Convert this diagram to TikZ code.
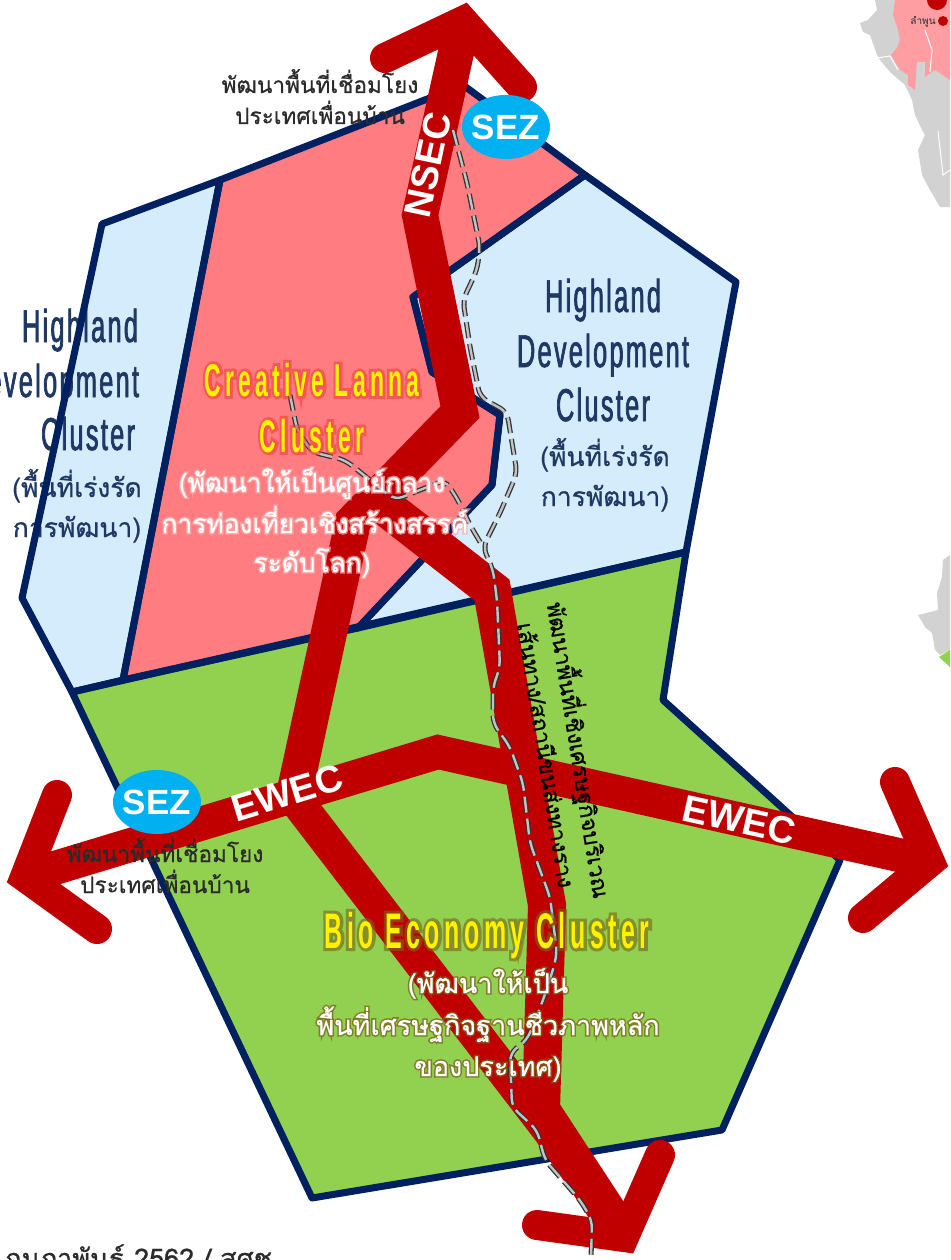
\documentclass[tikz,border=0pt]{standalone}
\usepackage{fontspec}
\usetikzlibrary{shapes.geometric}
\setmainfont{Liberation Sans}
\newfontfamily\thaifont[Script=Thai]{Loma}
\newfontfamily\thaihalo[Script=Thai,FakeBold=12]{Loma}
\newfontfamily\thaisemi[Script=Thai,FakeBold=0.7]{Loma}
\newfontfamily\condfont[FakeStretch=0.55,LetterSpace=5,FakeBold=1.5]{Liberation Sans}
\newfontfamily\condbold[FakeStretch=0.5,LetterSpace=9]{Liberation Sans Bold}
\newfontfamily\condhalo[FakeStretch=0.5,LetterSpace=9,FakeBold=12]{Liberation Sans Bold}
\definecolor{navy}{HTML}{002060}
\definecolor{roadred}{HTML}{C00000}
\definecolor{pinkfill}{HTML}{FF7C80}
\definecolor{bluefill}{HTML}{D5ECFD}
\definecolor{greenfill}{HTML}{92D050}
\definecolor{sezblue}{HTML}{00B0F0}
\definecolor{hlblue}{HTML}{1F3864}
\definecolor{labelgrey}{HTML}{2B2B2B}
\definecolor{mapgrey}{HTML}{D2D2D2}
\definecolor{mappink}{HTML}{FF9EA2}
\definecolor{oliveglow}{HTML}{7A6418}
\definecolor{pinkglow}{HTML}{FFA8A8}
\definecolor{redglow}{HTML}{F04040}
\tikzset{
 zoneline/.style={draw=navy,line width=7pt,line join=round},
 road/.style={draw=roadred,line join=miter,miter limit=10},
 head/.style={draw=roadred,line width=30pt,line join=miter,line cap=round,miter limit=10},
 railout/.style={draw=black!80,line width=5pt,dash pattern=on 16pt off 6pt,rounded corners=8pt},
 railin/.style={draw=white,opacity=.7,line width=2.4pt,dash pattern=on 16pt off 6pt,rounded corners=8pt},
 sez/.style={ellipse,fill=sezblue,minimum width=88pt,minimum height=64pt,inner xsep=-3pt,inner ysep=6pt,text=white,font=\fontsize{35}{35}\selectfont\bfseries},
 corridor/.style={text=white,inner sep=0pt,font=\fontsize{38}{38}\selectfont\bfseries},
 txt/.style={inner sep=0pt,anchor=base},
 blacklabel/.style={txt,text=labelgrey,font=\fontsize{22.6}{22.6}\selectfont\thaisemi},
 hlhead/.style={txt,text=hlblue,font=\fontsize{46}{46}\selectfont\condfont},
 hlthai/.style={txt,text=hlblue,font=\fontsize{26.5}{26.5}\selectfont\thaisemi},
 clusterhead/.style={txt,text=yellow,font=\condbold},
 clusterheadglow/.style={txt,opacity=.6,font=\condhalo},
 lannathai/.style={txt,text=white,font=\fontsize{26.3}{26.3}\selectfont\thaisemi},
 lannathaiglow/.style={txt,text=pinkglow,opacity=.75,font=\fontsize{26.3}{26.3}\selectfont\thaihalo},
 biothai/.style={txt,text=white,font=\fontsize{27}{27}\selectfont\thaisemi},
 biothaiglow/.style={txt,text=oliveglow,opacity=.75,font=\fontsize{27}{27}\selectfont\thaihalo},
 vertlabel/.style={inner sep=0pt,text=black,rotate=-81,font=\fontsize{22.6}{22.6}\selectfont\thaisemi},
}
\begin{document}
\begin{tikzpicture}[x=1pt,y=-1pt]
\useasboundingbox (0,0) rectangle (950,1260);
\clip (0,0) rectangle (950,1260);
% background map fragments
\fill[mapgrey] (875,0) -- (877,10) -- (868,20) -- (860,23) -- (863,32) -- (870,35) -- (877,55) -- (880,60) -- (890,72) -- (905,85) -- (912,100) -- (915,115) -- (922,130) -- (925,135) -- (918,150) -- (922,175) -- (930,190) -- (940,207) -- (950,207) -- (950,0) -- cycle;
\fill[mappink] (895,0) -- (893,15) -- (898,30) -- (900,40) -- (897,48) -- (891,55) -- (900,70) -- (908,75) -- (908,85) -- (915,90) -- (917,62) -- (925,62) -- (925,77) -- (935,70) -- (950,80) -- (950,0) -- cycle;
\draw[white,line width=1pt] (877,58) -- (890,56) -- (898,70);
\draw[white,line width=1pt] (938,131) -- (943,175) -- (950,170);
\draw[white,line width=1pt] (925,30) -- (932,50) -- (930,72);
\fill[roadred] (937,0) circle (10pt);
\fill[roadred] (943,21) circle (5pt);
\node[inner sep=0pt,text=labelgrey,font=\fontsize{10}{10}\selectfont\thaifont] (lamphun) at (923,22) {ลำพูน};
\fill[mapgrey] (950,555) -- (943,560) -- (942,577) -- (937,593) -- (938,610) -- (918,615) -- (925,627) -- (932,633) -- (935,650) -- (940,655) -- (950,650) -- cycle;
\fill[greenfill] (939,657) -- (950,650) -- (950,667) -- cycle;
% zones: fills
\def\zoneleft{(102,224) -- (220,180) -- (123,680) -- (72,692) -- (22,598) -- cycle}
\def\zonered{(220,180) -- (463,85) -- (585,175) -- (413,297) -- (432,372) -- (500,415) -- (492,485) -- (358,628) -- (123,680) -- cycle}
\def\zoneright{(585,175) -- (736,282) -- (686,552) -- (358,628) -- (492,485) -- (500,415) -- (432,372) -- (413,297) -- cycle}
\def\zonegreen{(72,692) -- (686,552) -- (663,700) -- (840,860) -- (722,1130) -- (312,1198) -- cycle}
\fill[bluefill] \zoneleft;
\fill[pinkfill] \zonered;
\fill[bluefill] \zoneright;
\fill[greenfill] \zonegreen;
% left highland text lies under the zone outline
\node[hlhead] (hlA) at (80,342) {Highland};
\node[hlhead] (hlB) at (53,397) {Development};
\node[hlhead] (hlC) at (88,450) {Cluster};
\node[hlthai] (hlD) at (77,497) {(พื้นที่เร่งรัด};
\node[hlthai] (hlE) at (77,537) {การพัฒนา)};
\draw[zoneline] \zoneleft;
\draw[zoneline] \zonered;
\draw[zoneline] \zoneright;
\draw[zoneline] \zonegreen;
% roads
\draw[road,line width=36pt] (463,21) -- (420,215) -- (460,412) -- (353,522) -- (295,790);
\draw[road,line width=38pt] (370,495) -- (492,590) -- (547,905) -- (541,1110) -- (624,1237);
\draw[road,line width=34pt] (292,795) -- (549,1130) -- (624,1237);
\draw[road,line width=34pt] (25,877) -- (438,752) -- (930,862);
\draw[head] (385,58) -- (463,21) -- (522,87);
\draw[head] (57,795) -- (25,877) -- (97,929);
\draw[head] (895,782) -- (930,862) -- (863,918);
\draw[head] (660,1155) -- (624,1237) -- (537,1225);
% rail
\def\railmain{(453,130) -- (467,183) -- (480,247) -- (477,270) -- (463,300) -- (470,347) -- (480,397) -- (507,412) -- (517,473) -- (500,513) -- (483,547) -- (493,570) -- (497,600) -- (500,667) -- (493,687) -- (493,723) -- (510,747) -- (523,783) -- (530,843) -- (550,897) -- (557,953) -- (553,970) -- (542,1003) -- (527,1040) -- (510,1053) -- (512,1107) -- (537,1130) -- (545,1160) -- (580,1200) -- (592,1220) -- (591,1260)}
\def\railbranch{(290,395) -- (297,430) -- (312,452) -- (345,460) -- (395,500) -- (445,480) -- (458,500) -- (470,525) -- (483,547)}
\draw[railout] \railmain;
\draw[railin] \railmain;
\draw[railout] \railbranch;
\draw[railin] \railbranch;
% badges and corridor names
\node[sez] (sezN) at (506,127) {SEZ};
\node[sez] (sezW) at (157,802) {SEZ};
\node[corridor,rotate=78] (nsec) at (428,165) {NSEC};
\node[corridor,rotate=17] (ewecL) at (287,793) {EWEC};
\node[corridor,rotate=-12.5] (ewecR) at (739,820) {EWEC};
% black labels
\node[blacklabel] (topA) at (320,93) {พัฒนาพื้นที่เชื่อมโยง};
\node[blacklabel] (topB) at (320,124) {ประเทศเพื่อนบ้าน};
\node[blacklabel] (leftA) at (165,862) {พัฒนาพื้นที่เชื่อมโยง};
\node[blacklabel] (leftB) at (165,893) {ประเทศเพื่อนบ้าน};
\node[vertlabel] (vertA) at (579,750) {พัฒนาพื้นที่เชิงเศรษฐกิจบริเวณ};
\node[vertlabel] (vertB) at (547,755) {เส้นทาง/สถานีขนส่งทางราง};
% right highland
\node[hlhead] (hrA) at (603,312) {Highland};
\node[hlhead] (hrB) at (603,367) {Development};
\node[hlhead] (hrC) at (603,421) {Cluster};
\node[hlthai] (hrD) at (605,466) {(พื้นที่เร่งรัด};
\node[hlthai] (hrE) at (605,506) {การพัฒนา)};
% lanna cluster
\node[clusterheadglow,text=redglow,font=\fontsize{46}{46}\selectfont\condhalo] (clgA) at (312,396) {Creative Lanna};
\node[clusterheadglow,text=redglow,font=\fontsize{46}{46}\selectfont\condhalo] (clgB) at (312,452) {Cluster};
\node[clusterhead,font=\fontsize{46}{46}\selectfont\condbold] (clA) at (312,396) {Creative Lanna};
\node[clusterhead,font=\fontsize{46}{46}\selectfont\condbold] (clB) at (312,452) {Cluster};
\node[lannathaiglow] (cltgA) at (312,492) {(พัฒนาให้เป็นศูนย์กลาง};
\node[lannathaiglow] (cltgB) at (315,533) {การท่องเที่ยวเชิงสร้างสรรค์};
\node[lannathaiglow] (cltgC) at (312,572) {ระดับโลก)};
\node[lannathai] (cltA) at (312,492) {(พัฒนาให้เป็นศูนย์กลาง};
\node[lannathai] (cltB) at (315,533) {การท่องเที่ยวเชิงสร้างสรรค์};
\node[lannathai] (cltC) at (312,572) {ระดับโลก)};
% bio cluster
\node[clusterheadglow,text=oliveglow,font=\fontsize{50}{50}\selectfont\condhalo] (bgA) at (487,948) {Bio Economy Cluster};
\node[clusterhead,font=\fontsize{50}{50}\selectfont\condbold] (bA) at (487,948) {Bio Economy Cluster};
\node[biothaiglow] (btgA) at (488,993) {(พัฒนาให้เป็น};
\node[biothaiglow] (btgB) at (488,1035) {พื้นที่เศรษฐกิจฐานชีวภาพหลัก};
\node[biothaiglow] (btgC) at (488,1076) {ของประเทศ)};
\node[biothai] (btA) at (488,993) {(พัฒนาให้เป็น};
\node[biothai] (btB) at (488,1035) {พื้นที่เศรษฐกิจฐานชีวภาพหลัก};
\node[biothai] (btC) at (488,1076) {ของประเทศ)};
% source line, cut by the page edge
\node[inner sep=0pt,anchor=base west,text=labelgrey,font=\fontsize{27}{27}\selectfont\thaisemi] (source) at (5,1268) {กุมภาพันธ์ 2562 / สศช.};
\end{tikzpicture}
\end{document}
